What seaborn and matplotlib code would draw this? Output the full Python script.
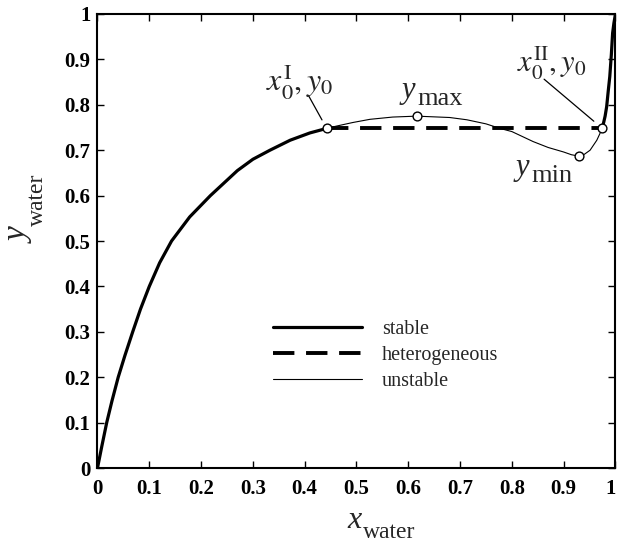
import numpy as np
import matplotlib
matplotlib.use("Agg")
import matplotlib.pyplot as plt
from matplotlib.lines import Line2D
from matplotlib.transforms import offset_copy
import seaborn as sns

# stable branch, water-poor side
stable_left_x = [0, 0.008, 0.0178, 0.028, 0.040, 0.053, 0.068, 0.083, 0.1, 0.12, 0.143,
                 0.178, 0.218, 0.27, 0.3, 0.333, 0.372, 0.41, 0.4425]
stable_left_y = [0, 0.046, 0.1, 0.148, 0.2, 0.248, 0.3, 0.35, 0.4, 0.452, 0.5,
                 0.553, 0.6, 0.655, 0.68, 0.70, 0.722, 0.738, 0.748]

# unstable branch between the two tie points
unstable_x = [0.4425, 0.461, 0.493, 0.526, 0.57, 0.616, 0.68, 0.713, 0.75, 0.777,
              0.8, 0.841, 0.87, 0.9, 0.915, 0.929, 0.94, 0.951, 0.964, 0.9746]
unstable_y = [0.748, 0.753, 0.761, 0.768, 0.773, 0.775, 0.772, 0.767, 0.758, 0.748,
              0.741, 0.719, 0.706, 0.696, 0.690, 0.687, 0.691, 0.700, 0.722, 0.748]

# stable branch, water-rich side
stable_right_x = [0.9746, 0.98, 0.983, 0.986, 0.989, 0.992, 0.9945, 0.997, 1.0]
stable_right_y = [0.748, 0.775, 0.796, 0.83, 0.862, 0.91, 0.958, 0.98, 1.0]

# heterogeneous tie line
hetero_x = [0.4425, 0.9746]
hetero_y = [0.748, 0.748]

# special points: x0I, ymax, ymin, x0II
point_x = [0.4425, 0.616, 0.929, 0.9746]
point_y = [0.748, 0.775, 0.687, 0.748]

ticks = [0, 0.1, 0.2, 0.3, 0.4, 0.5, 0.6, 0.7, 0.8, 0.9, 1]
tick_labels = ["0", "0.1", "0.2", "0.3", "0.4", "0.5", "0.6", "0.7", "0.8", "0.9", "1"]

sns.set_style("ticks")
plt.rcParams["font.family"] = ["Liberation Serif", "DejaVu Serif"]
plt.rcParams["mathtext.fontset"] = "stix"
plt.rcParams["xtick.direction"] = "in"
plt.rcParams["ytick.direction"] = "in"
plt.rcParams["xtick.top"] = True
plt.rcParams["ytick.right"] = True

fig = plt.figure(figsize=(6.19, 5.42), dpi=100)
ax = fig.add_axes([0.1575, 0.1365, 0.8368, 0.8377])


def sub_text(x, y, main, sub, size, sub_size, drop, trans, rotation=0):
    # italic symbol ending at (x, y) on its baseline, upright subscript after it
    ax.text(x, y, main, transform=trans, fontsize=size, style="italic",
            ha="right", va="baseline", rotation=rotation, rotation_mode="anchor",
            clip_on=False)
    if rotation == 90:
        t2 = offset_copy(trans, fig=fig, x=drop, y=1.5, units="points")
    else:
        t2 = offset_copy(trans, fig=fig, x=1.5, y=-drop, units="points")
    ax.text(x, y, sub, transform=t2, fontsize=sub_size, ha="left", va="baseline",
            rotation=rotation, rotation_mode="anchor", clip_on=False)


sns.lineplot(x=stable_left_x, y=stable_left_y, ax=ax, color="black", lw=2.3,
             estimator=None, sort=False)
sns.lineplot(x=unstable_x, y=unstable_y, ax=ax, color="black", lw=0.8,
             estimator=None, sort=False)
sns.lineplot(x=stable_right_x, y=stable_right_y, ax=ax, color="black", lw=2.3,
             estimator=None, sort=False)
ax.plot(hetero_x, hetero_y, color="black", lw=2.8, dashes=(5.5, 3))
sns.scatterplot(x=point_x, y=point_y, ax=ax, s=40, color="white",
                edgecolor="black", linewidth=1, zorder=5)

ax.set_xlim(0, 1)
ax.set_ylim(0, 1)
ax.set_xticks(ticks)
ax.set_yticks(ticks)
ax.set_xticklabels(tick_labels, fontweight="bold")
ax.set_yticklabels(tick_labels, fontweight="bold")
ax.tick_params(axis="both", labelsize=15, length=5, width=1, colors="black")
ax.tick_params(axis="x", pad=8)
ax.tick_params(axis="y", pad=5)
ax.get_xticklabels()[-1].set_ha("right")
for s in ax.spines.values():
    s.set_linewidth(1.5)
    s.set_color("black")

# axis labels
sub_text(0.509, -0.132, "x", "water", 23, 17, 7, ax.transAxes)
sub_text(-0.134, 0.529, "y", "water", 24, 17, 11, ax.transAxes, rotation=90)

# labels for the special points
ax.annotate(r"$x_0^{\mathrm{I}}, y_0$", xy=(point_x[0], point_y[0]), xytext=(0.391, 0.852),
            ha="center", va="center", fontsize=23,
            arrowprops=dict(arrowstyle="-", color="black", lw=0.9, shrinkA=0, shrinkB=7,
                            patchA=None, relpos=(0.63, 0.12)))
ax.annotate(r"$x_0^{\mathrm{II}}, y_0$", xy=(point_x[3], point_y[3]), xytext=(0.877, 0.892),
            ha="center", va="center", fontsize=22,
            arrowprops=dict(arrowstyle="-", color="black", lw=0.9, shrinkA=0, shrinkB=8,
                            patchA=None, relpos=(0.39, 0.07)))
sub_text(0.613, 0.815, "y", "max", 22, 19, 5, ax.transData)
sub_text(0.833, 0.645, "y", "min", 22, 19, 5, ax.transData)

handles = [Line2D([], [], color="black", lw=2.3),
           Line2D([], [], color="black", lw=2.8, dashes=(5.5, 3)),
           Line2D([], [], color="black", lw=0.8)]
ax.legend(handles, ["stable", "heterogeneous", "unstable"], loc="upper left",
          bbox_to_anchor=(0.339, 0.327), frameon=False, fontsize=14.5,
          handlelength=4.4, handletextpad=1.0, labelspacing=0.35,
          borderpad=0, borderaxespad=0)

fig.savefig("out.png", dpi=100)
